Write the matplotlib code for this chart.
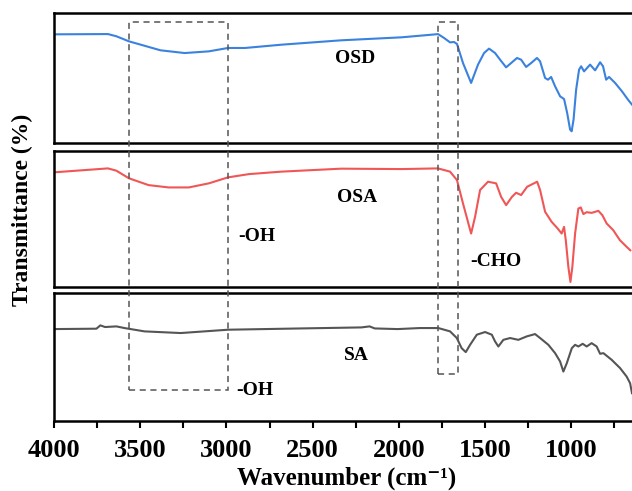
import matplotlib
matplotlib.use("Agg")
import matplotlib.pyplot as plt
from matplotlib.patches import Rectangle
from matplotlib.transforms import blended_transform_factory
from matplotlib.ticker import MultipleLocator

SERIF = ["Liberation Serif", "DejaVu Serif"]

# ==== data: wavenumber (cm-1) / transmittance (relative, per panel) ====
osd_wn = [4000, 3687, 3638, 3565, 3382, 3242, 3102, 2991, 2892, 2683, 2334, 1984,
          1786, 1773, 1738, 1703, 1680, 1663, 1628, 1581, 1541, 1506, 1477, 1442,
          1413, 1378, 1349, 1315, 1291, 1262, 1233, 1199, 1181, 1152, 1135, 1117,
          1094, 1065, 1042, 1024, 1007, 998, 987, 972, 955, 943, 926, 891, 862,
          833, 816, 798, 781, 746, 706, 671, 648]
osd_t = [83.6, 83.8, 82.1, 78.2, 71.3, 69.2, 70.5, 73.1, 73.1, 75.6, 79.0, 81.3,
         83.6, 83.8, 80.8, 77.4, 77.7, 76.2, 61.5, 46.2, 60.3, 69.2, 72.6, 69.2,
         64.1, 58.2, 61.5, 65.4, 64.1, 58.5, 61.5, 65.4, 62.8, 50.0, 48.7, 50.8,
         43.6, 35.9, 33.8, 23.1, 10.3, 9.0, 17.9, 41.0, 56.4, 59.0, 55.1, 60.3, 55.9,
         62.1, 59.0, 48.7, 50.8, 46.2, 39.7, 33.3, 29.5]

osa_wn = [4000, 3687, 3638, 3565, 3451, 3335, 3218, 3102, 2991, 2869, 2683, 2334,
          1984, 1773, 1703, 1663, 1628, 1581, 1558, 1529, 1483, 1436, 1407, 1378,
          1344, 1320, 1291, 1256, 1198, 1181, 1152, 1114, 1079, 1056, 1042, 1032,
          1017, 1005, 994, 978, 959, 945, 930, 911, 882, 843, 820, 795, 757, 718,
          679, 658]
osa_t = [84.3, 87.2, 85.5, 79.9, 74.9, 73.2, 73.2, 76.2, 80.6, 83.0, 84.8, 87.0,
         86.7, 87.2, 84.8, 78.6, 61.4, 39.3, 51.6, 71.3, 77.4, 76.2, 66.3, 60.2,
         66.3, 69.3, 67.6, 73.7, 77.4, 71.3, 55.3, 47.9, 43.0, 39.3, 44.2, 34.4,
         14.7, 3.7, 14.7, 39.3, 57.7, 58.5, 53.6, 55.0, 54.5, 56.0, 52.8, 46.7, 41.8,
         34.4, 29.5, 27.0]

sa_wn = [4000, 3754, 3731, 3704, 3638, 3591, 3475, 3265, 2991, 2567, 2217, 2170,
         2140, 2007, 1878, 1771, 1703, 1664, 1636, 1612, 1587, 1548, 1500, 1461,
         1442, 1423, 1394, 1355, 1307, 1258, 1210, 1181, 1133, 1094, 1065, 1046,
         1026, 997, 978, 959, 934, 911, 882, 853, 833, 814, 766, 717, 679, 659, 648]
sa_t = [71.8, 72.1, 74.7, 73.4, 73.9, 72.6, 70.0, 68.7, 71.3, 72.3, 73.1, 73.9,
        72.3, 71.8, 72.6, 72.6, 70.0, 64.8, 56.9, 53.8, 59.5, 67.4, 69.5, 67.4,
        62.1, 58.2, 63.4, 64.8, 63.4, 66.1, 67.9, 64.8, 59.5, 53.0, 46.5, 38.6,
        45.2, 56.9, 59.5, 58.2, 60.3, 58.2, 60.8, 58.2, 52.5, 53.0, 47.8, 41.3,
        34.7, 29.5, 21.7]

# ==== figure ====
fig = plt.figure(figsize=(6.32, 4.91), dpi=100)
L, W = 0.0854, 0.9146
ax1 = fig.add_axes([L, 0.7088, W, 0.2647])
ax2 = fig.add_axes([L, 0.4155, W, 0.2770])
ax3 = fig.add_axes([L, 0.1426, W, 0.2607])

panels = [(ax1, osd_wn, osd_t, "#3a82de"),
          (ax2, osa_wn, osa_t, "#f05656"),
          (ax3, sa_wn, sa_t, "#555555")]
for ax, wn, t, c in panels:
    ax.plot(wn, t, color=c, lw=1.5)
    ax.set_xlim(4000, 648)
    ax.set_ylim(0, 100)
    ax.set_yticks([])
    for s in ax.spines.values():
        s.set_linewidth(1.8)
    ax.spines["right"].set_visible(False)

for ax in (ax1, ax2):
    ax.set_xticks([])

ax3.xaxis.set_major_locator(MultipleLocator(500))
ax3.xaxis.set_minor_locator(MultipleLocator(250))
ax3.tick_params(axis="x", which="both", direction="out", length=5, width=1.5, pad=8)
for lab in ax3.get_xticklabels():
    lab.set_fontfamily(SERIF)
    lab.set_fontweight("bold")
    lab.set_fontsize(19)

# ==== labels ====
tk = dict(family=SERIF, fontweight="bold", fontsize=14, ha="center", va="center")
ax1.text(2254, 65, "OSD", **tk)
ax2.text(2242, 66, "OSA", **tk)
ax2.text(2825, 37, "-OH", **tk)
ax2.text(1440, 19, "-CHO", **tk)
ax3.text(2248, 51, "SA", **tk)
ax3.text(2837, 24, "-OH", **tk)

fig.text(0.036, 0.573, "Transmittance (%)", rotation=90, family=SERIF,
         fontweight="bold", fontsize=17, ha="center", va="center")
fig.text(0.548, 0.013, "Wavenumber (cm⁻¹)", family=SERIF,
         fontweight="bold", fontsize=18, ha="center", va="baseline")

# ==== dashed boxes across panels ====
tr = blended_transform_factory(ax3.transData, fig.transFigure)
for x0, x1, ybot in [(3563, 2990, 0.2057), (1773, 1658, 0.2383)]:
    ax3.add_patch(Rectangle((x0, ybot), x1 - x0, 0.9552 - ybot, transform=tr,
                            fill=False, ec="#555555", lw=1.1,
                            ls=(0, (4, 3)), clip_on=False, zorder=5))

fig.savefig("out.png", dpi=100)
